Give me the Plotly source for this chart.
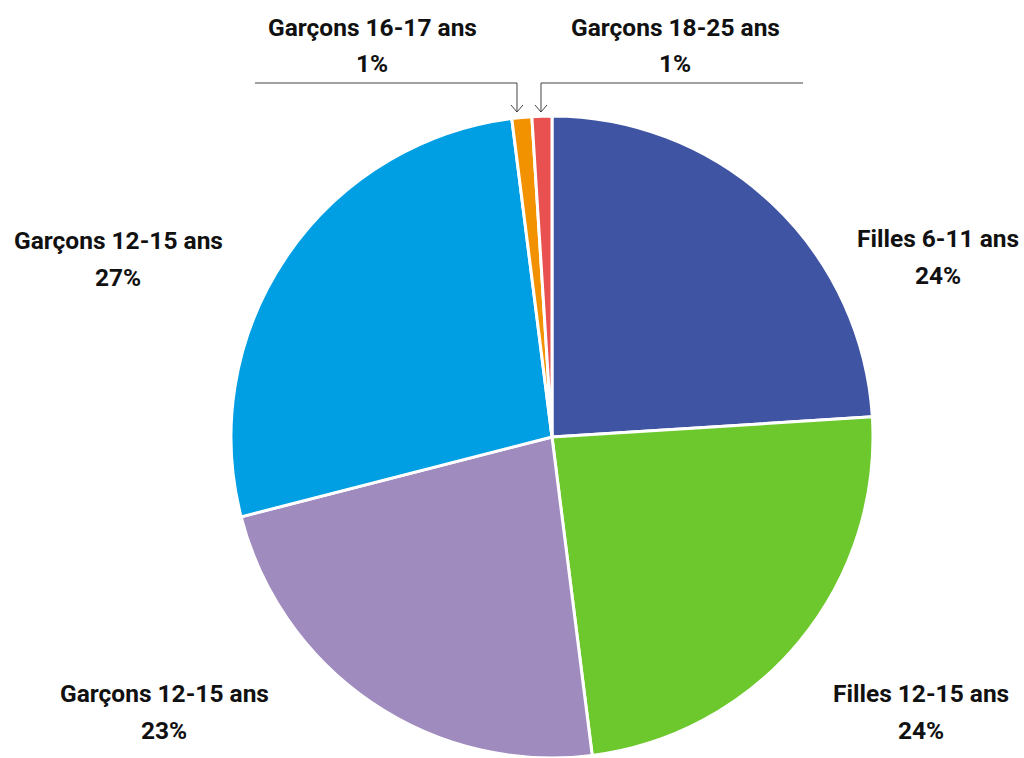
import plotly.graph_objects as go

# Data
categories = ["Filles 6-11 ans", "Filles 12-15 ans", "Garçons 12-15 ans",
              "Garçons 12-15 ans ", "Garçons 16-17 ans", "Garçons 18-25 ans"]
label_names = ["Filles 6-11 ans", "Filles 12-15 ans", "Garçons 12-15 ans",
               "Garçons 12-15 ans", "Garçons 16-17 ans", "Garçons 18-25 ans"]
values = [24, 24, 23, 27, 1, 1]
colors = ["#3F54A2", "#6CC82C", "#A08BBF", "#009FE3", "#F39200", "#E8514F"]

W, H = 1024, 758

def px(x):
    return x / W

def py(y):
    return 1 - y / H

# label centre positions (pixels) for each category
label_pos = [(938, 238), (921, 693), (164, 693), (118, 240), (372, 27), (675, 27)]

CX, CY, R = 552, 437, 321

fig = go.Figure()
fig.add_trace(go.Pie(
    labels=categories,
    values=values,
    sort=False,
    direction="clockwise",
    rotation=0,
    textinfo="none",
    hoverinfo="label+percent",
    marker=dict(colors=colors, line=dict(color="white", width=3)),
    domain=dict(x=[px(CX - R), px(CX + R)], y=[max(0, py(CY + R)), py(CY - R)]),
    showlegend=False,
))

font = dict(family="Roboto, sans-serif", size=24.5, color="#111111")
total = sum(values)
for name, v, (x, y) in zip(label_names, values, label_pos):
    fig.add_annotation(x=px(x), y=py(y), xref="paper", yref="paper",
                       text=f"<b>{name}</b>", showarrow=False, font=font,
                       xanchor="center", yanchor="middle")
    fig.add_annotation(x=px(x), y=py(y + 37), xref="paper", yref="paper",
                       text=f"<b>{round(100 * v / total)}%</b>", showarrow=False, font=font,
                       xanchor="center", yanchor="middle")

# leader lines with open arrowheads
def path(points):
    return " ".join(("M" if i == 0 else "L") + f" {px(a):.5f},{py(b):.5f}" for i, (a, b) in enumerate(points))

line_style = dict(color="#444444", width=1)
for pts in [[(255, 83), (517, 83), (517, 112)],
            [(803, 83), (541, 83), (541, 112)]]:
    fig.add_shape(type="path", xref="paper", yref="paper", path=path(pts), line=line_style)
    tx, ty = pts[-1]
    fig.add_shape(type="path", xref="paper", yref="paper",
                  path=path([(tx - 6, ty - 7), (tx, ty), (tx + 6, ty - 7)]), line=line_style)

fig.update_layout(
    width=W, height=H,
    margin=dict(l=0, r=0, t=0, b=0),
    paper_bgcolor="white",
    plot_bgcolor="white",
)

fig.write_html("out.html", config={"displayModeBar": False},
               post_script="document.body.style.margin='0px';")
